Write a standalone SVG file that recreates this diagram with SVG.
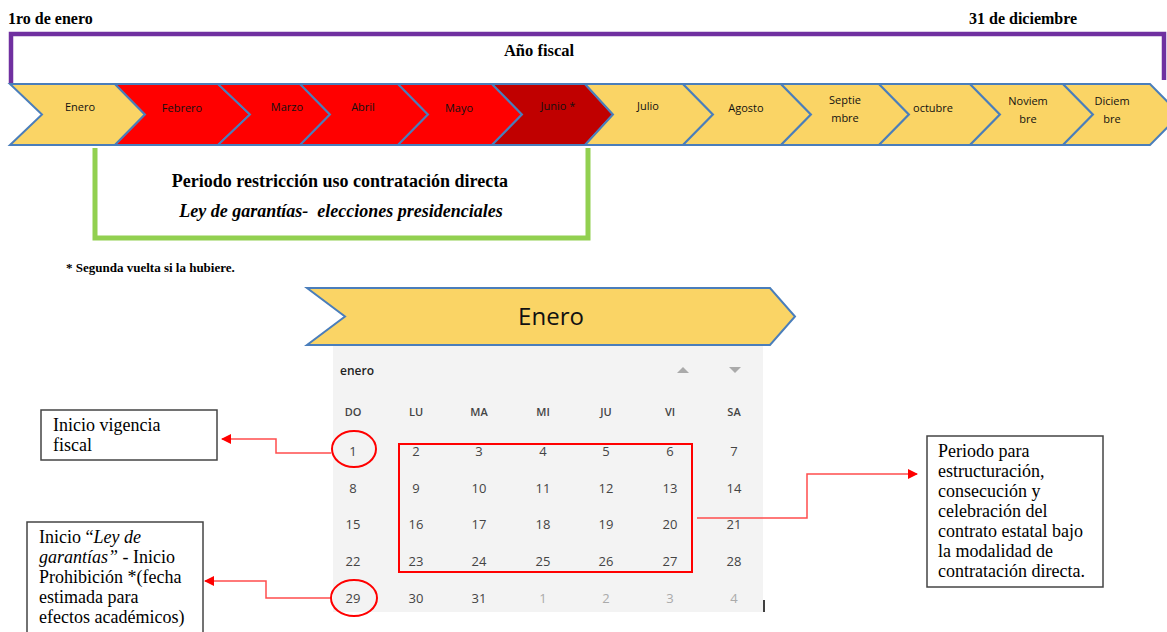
<svg xmlns="http://www.w3.org/2000/svg" width="1167" height="632" viewBox="0 0 1167 632">
<defs>
<marker id="ah" viewBox="0 0 10 10" refX="9" refY="5" markerWidth="10" markerHeight="10" markerUnits="userSpaceOnUse" orient="auto">
<path d="M0,0 L10,5 L0,10 z" fill="#ff0000"/>
</marker>
<style>
.b{font-weight:bold}
.chev{stroke:#4A7EBB;stroke-width:2}
.y{fill:#FAD465}
.r{fill:#FF0000}
.dr{fill:#C00000}
.ml{font-family:'Open Sans','Liberation Sans',sans-serif;font-size:11px;fill:#111;text-anchor:middle}
.cal{font-family:'Open Sans','Liberation Sans',sans-serif;font-size:13px;fill:#444;text-anchor:middle}
.hd{font-family:'Open Sans','Liberation Sans',sans-serif;font-size:11px;font-weight:600;fill:#444;text-anchor:middle}
.gr{fill:#aaa}
.box{fill:#fff;stroke:#444;stroke-width:1.5}
.bt{font-size:18px;fill:#000}
.conn{fill:none;stroke:#FF4D4D;stroke-width:1.5}
</style>
</defs>
<rect width="1167" height="632" fill="#fff"/>

<g id="header" font-family="'Liberation Serif','DejaVu Serif',serif">
<text class="b" x="8" y="24" font-size="16">1ro de enero</text>
<text class="b" x="969" y="24" font-size="16">31 de diciembre</text>
<path d="M11,84 V34 H1164 V80" fill="none" stroke="#7030A0" stroke-width="4.5"/>
<text class="b" x="539" y="56" font-size="16.5" text-anchor="middle">Año fiscal</text>
</g>

<g id="months">
<g id="m-enero"><path class="chev y" d="M10,84 H115 L145,114.5 L115,145 H10 L42,114.5 Z"/><text class="ml" x="80" y="111">Enero</text></g>
<g id="m-febrero"><path class="chev r" d="M115,84 H218 L250,114.5 L218,145 H115 L145,114.5 Z"/><text class="ml" x="182" y="112">Febrero</text></g>
<g id="m-marzo"><path class="chev r" d="M218,84 H300 L330,114.5 L300,145 H218 L250,114.5 Z"/><text class="ml" x="287" y="111">Marzo</text></g>
<g id="m-abril"><path class="chev r" d="M300,84 H398 L428,114.5 L398,145 H300 L330,114.5 Z"/><text class="ml" x="363" y="111">Abril</text></g>
<g id="m-mayo"><path class="chev r" d="M398,84 H492 L522,114.5 L492,145 H398 L428,114.5 Z"/><text class="ml" x="459" y="112">Mayo</text></g>
<g id="m-junio"><path class="chev dr" d="M492,84 H585 L613,114.5 L585,145 H492 L522,114.5 Z"/><text class="ml" x="558" y="110">Junio *</text></g>
<g id="m-julio"><path class="chev y" d="M585,84 H683 L713,114.5 L683,145 H585 L613,114.5 Z"/><text class="ml" x="648" y="110">Julio</text></g>
<g id="m-agosto"><path class="chev y" d="M683,84 H781 L811,114.5 L781,145 H683 L713,114.5 Z"/><text class="ml" x="746" y="112">Agosto</text></g>
<g id="m-septiembre"><path class="chev y" d="M781,84 H879 L909,114.5 L879,145 H781 L811,114.5 Z"/><text class="ml" x="845" y="104">Septie</text><text class="ml" x="845" y="122">mbre</text></g>
<g id="m-octubre"><path class="chev y" d="M879,84 H970 L1000,114.5 L970,145 H879 L909,114.5 Z"/><text class="ml" x="933" y="112">octubre</text></g>
<g id="m-noviembre"><path class="chev y" d="M970,84 H1063 L1093,114.5 L1063,145 H970 L1000,114.5 Z"/><text class="ml" x="1028" y="105">Noviem</text><text class="ml" x="1028" y="123">bre</text></g>
<g id="m-diciembre"><path class="chev y" d="M1063,84 H1150 L1180,114.5 L1150,145 H1063 L1093,114.5 Z"/><text class="ml" x="1112" y="105">Diciem</text><text class="ml" x="1112" y="123">bre</text></g>
</g>

<g id="restriccion" font-family="'Liberation Serif','DejaVu Serif',serif">
<path d="M95,148 V238 H588 V148" fill="none" stroke="#92D050" stroke-width="5"/>
<text class="b" x="340" y="187" font-size="18" text-anchor="middle">Periodo restricción uso contratación directa</text>
<text class="b" x="341" y="217" font-size="18" font-style="italic" text-anchor="middle" xml:space="preserve">Ley de garantías-  elecciones presidenciales</text>
</g>

<g id="nota" font-family="'Liberation Serif','DejaVu Serif',serif">
<text class="b" x="66" y="272" font-size="13">* Segunda vuelta si la hubiere.</text>
</g>

<g id="enero-banner">
<path class="chev y" d="M307,288 H770 L795,316.5 L770,345 H307 L345,316.5 Z"/>
<text x="551" y="325" font-family="'Open Sans','Liberation Sans',sans-serif" font-size="24" fill="#111" text-anchor="middle">Enero</text>
</g>

<g id="calendario">
<rect x="333" y="346" width="430" height="266" fill="#F3F3F3"/>
<text x="340" y="375" font-family="'Open Sans','Liberation Sans',sans-serif" font-size="12" font-weight="600" fill="#222">enero</text>
<path d="M677,373 L683,367 L689,373 Z" class="gr"/>
<path d="M729,367 L735,373 L741,367 Z" class="gr"/>
<text class="hd" x="353" y="416">DO</text><text class="hd" x="416" y="416">LU</text><text class="hd" x="479" y="416">MA</text><text class="hd" x="543" y="416">MI</text><text class="hd" x="606" y="416">JU</text><text class="hd" x="670" y="416">VI</text><text class="hd" x="734" y="416">SA</text>
<g class="cal">
<text x="353" y="456">1</text><text x="416" y="456">2</text><text x="479" y="456">3</text><text x="543" y="456">4</text><text x="606" y="456">5</text><text x="670" y="456">6</text><text x="734" y="456">7</text>
<text x="353" y="493">8</text><text x="416" y="493">9</text><text x="479" y="493">10</text><text x="543" y="493">11</text><text x="606" y="493">12</text><text x="670" y="493">13</text><text x="734" y="493">14</text>
<text x="353" y="529">15</text><text x="416" y="529">16</text><text x="479" y="529">17</text><text x="543" y="529">18</text><text x="606" y="529">19</text><text x="670" y="529">20</text><text x="734" y="529">21</text>
<text x="353" y="566">22</text><text x="416" y="566">23</text><text x="479" y="566">24</text><text x="543" y="566">25</text><text x="606" y="566">26</text><text x="670" y="566">27</text><text x="734" y="566">28</text>
<text x="353" y="603">29</text><text x="416" y="603">30</text><text x="479" y="603">31</text>
<text x="543" y="603" fill="#aaa">1</text><text x="606" y="603" fill="#aaa">2</text><text x="670" y="603" fill="#aaa">3</text><text x="734" y="603" fill="#aaa">4</text>
</g>
<rect x="399" y="444" width="293" height="128" fill="none" stroke="#FF0000" stroke-width="2"/>
<ellipse cx="354" cy="449" rx="22" ry="18" fill="none" stroke="#FF0000" stroke-width="2"/>
<ellipse cx="354" cy="598" rx="23" ry="18" fill="none" stroke="#FF0000" stroke-width="2"/>
<line x1="764" y1="600" x2="764" y2="612" stroke="#000" stroke-width="1.5"/>
</g>

<g id="box-vigencia" font-family="'Liberation Serif','DejaVu Serif',serif">
<rect class="box" x="41" y="410" width="176" height="50"/>
<text class="bt" x="53" y="431">Inicio vigencia</text>
<text class="bt" x="53" y="451">fiscal</text>
</g>

<g id="box-ley" font-family="'Liberation Serif','DejaVu Serif',serif">
<rect class="box" x="27" y="522" width="176" height="112"/>
<text class="bt" x="39" y="543">Inicio “<tspan font-style="italic">Ley de</tspan></text>
<text class="bt" x="39" y="563"><tspan font-style="italic">garantías”</tspan> - Inicio</text>
<text class="bt" x="39" y="583">Prohibición *(fecha</text>
<text class="bt" x="39" y="603">estimada para</text>
<text class="bt" x="39" y="623">efectos académicos)</text>
</g>

<g id="box-periodo" font-family="'Liberation Serif','DejaVu Serif',serif">
<rect class="box" x="927" y="436" width="176" height="151"/>
<text class="bt" x="938" y="457">Periodo para</text>
<text class="bt" x="938" y="477">estructuración,</text>
<text class="bt" x="938" y="497">consecución y</text>
<text class="bt" x="938" y="517">celebración del</text>
<text class="bt" x="938" y="537">contrato estatal bajo</text>
<text class="bt" x="938" y="557">la modalidad de</text>
<text class="bt" x="938" y="577">contratación directa.</text>
</g>

<g id="connectors">
<path class="conn" d="M331,453 H276 V439 H222" marker-end="url(#ah)"/>
<path class="conn" d="M330,598 H266 V581 H205" marker-end="url(#ah)"/>
<path class="conn" d="M697,518 H807 V474 H917" marker-end="url(#ah)"/>
</g>
</svg>
